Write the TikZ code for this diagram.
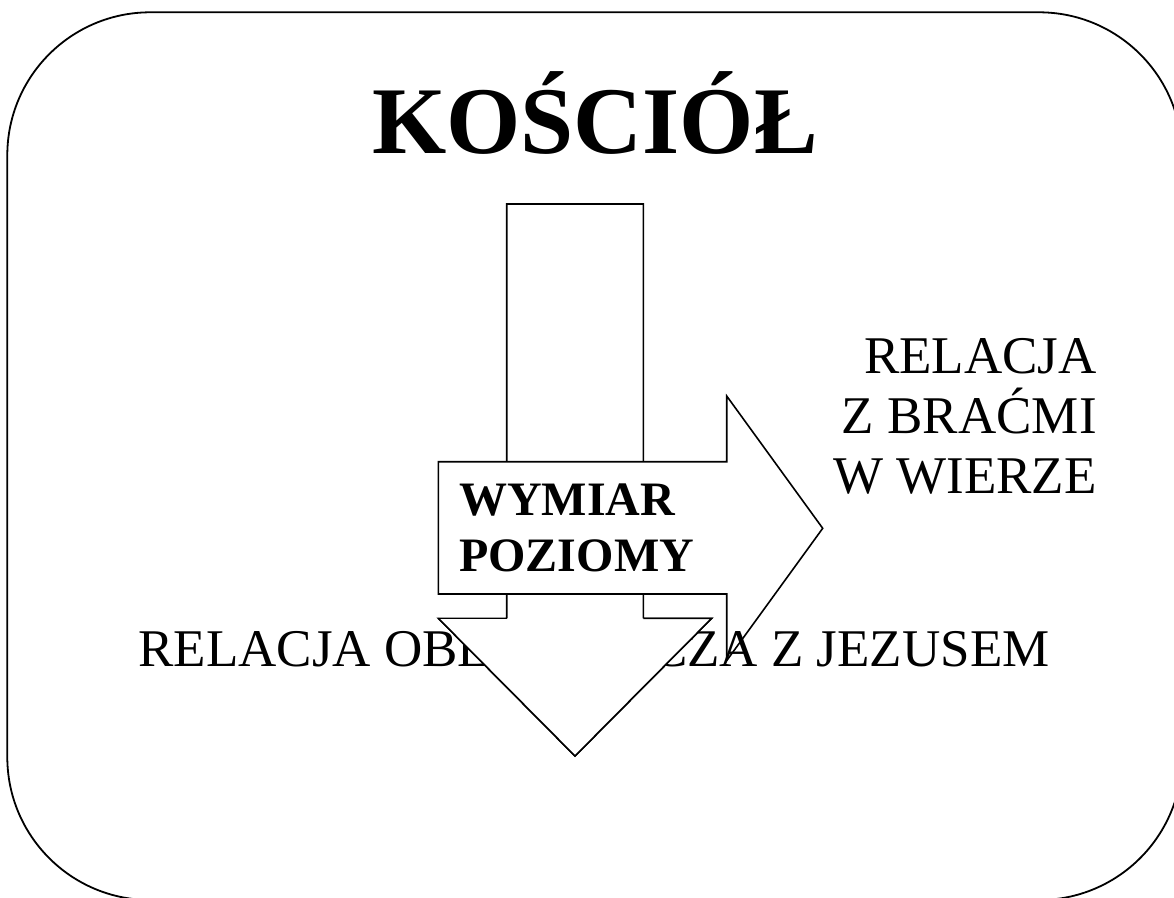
\documentclass[tikz,border=0pt]{standalone}
\usepackage{fontspec}
\setmainfont{Liberation Serif}
\begin{document}
\begin{tikzpicture}[x=1pt,y=-1pt,
  shapeline/.style={draw=black,line width=1.6pt,line join=miter},
  lbl/.style={inner sep=0pt,outer sep=0pt,text=black}]
\useasboundingbox (0,0) rectangle (1174,897);
\clip (0,0) rectangle (1174,897);
% frame
\draw[line width=1.8pt,rounded corners=143pt] (7.3,12.3) rectangle (1182,900);
% title
\node[lbl,anchor=base,font=\fontsize{95.5}{100}\selectfont\bfseries] (title) at (595,153.3) {KOŚCIÓŁ};
% vertical arrow
\draw[shapeline,fill=white] (506.7,204) -- (643.3,204) -- (643.3,618.3) -- (711.7,618.3) -- (575,756) -- (438.3,618.3) -- (506.7,618.3) -- cycle;
% horizontal arrow
\draw[shapeline,fill=white] (438.3,461.7) -- (726.7,461.7) -- (726.7,396) -- (822.7,528.3) -- (726.7,660.6) -- (726.7,594) -- (438.3,594) -- cycle;
% bottom text
\node[lbl,anchor=base west,font=\fontsize{53}{60}\selectfont] (jezus) at (138.3,666.7) {RELACJA OBLUBIEŃCZA Z JEZUSEM};
% arrowhead of vertical arrow over the text
\fill[white] (438.3,618.3) -- (711.7,618.3) -- (575,756) -- cycle;
\draw[shapeline] (438.3,618.3) -- (506.7,618.3);
\draw[shapeline] (643.3,618.3) -- (711.7,618.3) -- (575,756) -- (438.3,618.3);
% arrow label
\node[lbl,anchor=north west,align=left,font=\fontsize{48}{56}\selectfont\bfseries] (poziom) at (459.3,484) {WYMIAR\\POZIOMY};
% right text
\node[lbl,anchor=north east,align=right,font=\fontsize{53}{60}\selectfont] (bracia) at (1096.7,338.5) {RELACJA\\Z BRAĆMI\\W WIERZE};
\end{tikzpicture}
\end{document}
